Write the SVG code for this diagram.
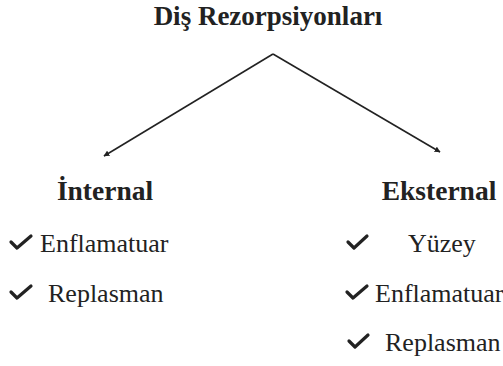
<svg xmlns="http://www.w3.org/2000/svg" width="503" height="366" viewBox="0 0 503 366">
<style>
.t{font-family:"Liberation Serif","Times New Roman",serif;fill:#222}
.h{font-weight:bold;font-size:27.5px}
.ti{font-weight:bold;font-size:27px}
.i{font-size:26px}
.ck{fill:none;stroke:#222;stroke-width:3.2;stroke-linecap:round;stroke-linejoin:round}
.ln{stroke:#222;stroke-width:1.6;fill:none}
</style>
<defs>
<marker id="ah" viewBox="0 0 10 10" refX="9" refY="5" markerWidth="6" markerHeight="6" orient="auto" markerUnits="userSpaceOnUse">
<path d="M0,0 L10,5 L0,10 z" fill="#222"/>
</marker>
</defs>
<rect width="503" height="366" fill="#fff"/>
<g id="title"><text class="t ti" x="268" y="25" text-anchor="middle">Diş Rezorpsiyonları</text></g>
<g id="connectors">
<path class="ln" d="M273,54 L104,156" marker-end="url(#ah)"/>
<path class="ln" d="M273,54 L440,152" marker-end="url(#ah)"/>
</g>
<g id="internal">
<text class="t h" x="105" y="200" text-anchor="middle">İnternal</text>
<path class="ck" d="M11,242 L17,248 L31,236"/>
<text class="t i" x="40" y="252">Enflamatuar</text>
<path class="ck" d="M11,292 L17,298 L31,286"/>
<text class="t i" x="48" y="302">Replasman</text>
</g>
<g id="eksternal">
<text class="t h" x="439" y="200" text-anchor="middle">Eksternal</text>
<path class="ck" d="M348,242 L354,248 L367,236"/>
<text class="t i" x="408" y="252">Yüzey</text>
<path class="ck" d="M347,292 L353,298 L367,286"/>
<text class="t i" x="375" y="302">Enflamatuar</text>
<path class="ck" d="M349,341 L355,347 L368,335"/>
<text class="t i" x="385" y="351">Replasman</text>
</g>
</svg>
